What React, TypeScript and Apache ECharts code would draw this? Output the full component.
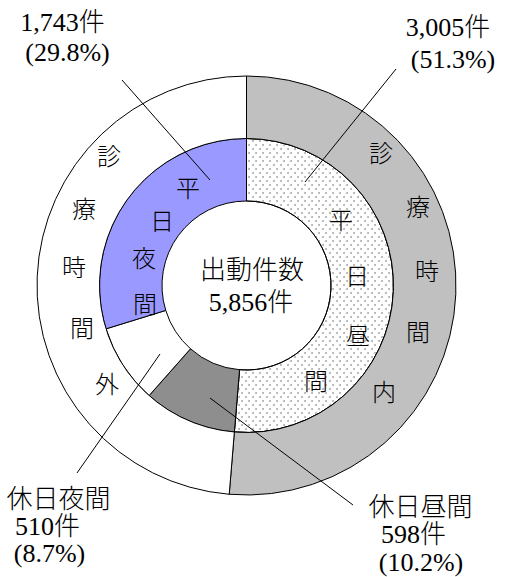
import React, { useEffect, useRef } from "react";
import * as echarts from "echarts";

// ---- data ----
const innerNames = ["平日昼間", "休日昼間", "休日夜間", "平日夜間"];
const innerValues = [3005, 598, 510, 1743];
const outerNames = ["診療時間内", "診療時間外"];
const outerValues = [3005, 2851];
const totalTitle = "出動件数";
const totalLabel = "5,856件";

// callout labels (text only)
const calloutTexts = [
  ["1,743件", "(29.8%)"],
  ["3,005件", "(51.3%)"],
  ["休日夜間", "510件", "(8.7%)"],
  ["休日昼間", "598件", "(10.2%)"],
];

// in-ring vertical labels
const ringLabels = ["平日夜間", "平日昼間", "診療時間内", "診療時間外"];

const FONT = "'Liberation Serif', 'Noto Sans CJK JP', serif";

export default function App() {
  const ref = useRef<HTMLDivElement>(null);

  useEffect(() => {
    if (!ref.current) return;
    const chart = echarts.init(ref.current, null, { renderer: "svg" });

    const cx = 246.5;
    const cy = 285.5;

    const innerStyles = [
      {
        color: "#ffffff",
        decal: {
          symbol: "circle",
          symbolSize: 1,
          dashArrayX: [
            [1.8, 4.2],
            [0, 3, 1.8, 1.2],
          ],
          dashArrayY: [1.8, 1.4],
          color: "#b0b0b0",
        },
      },
      { color: "#8e8e8e" },
      { color: "#ffffff" },
      { color: "#9999ff" },
    ];
    const outerColors = ["#c0c0c0", "#ffffff"];

    const text = (
      t: string,
      x: number,
      y: number,
      size = 25,
      lh?: number
    ): any => ({
      type: "text",
      z: 100,
      x,
      y,
      style: {
        text: t,
        fontSize: size,
        fontFamily: FONT,
        fontWeight: 300,
        lineHeight: lh ?? size,
        fill: "#000",
        align: "center",
        verticalAlign: "middle",
      },
    });
    const line = (x1: number, y1: number, x2: number, y2: number): any => ({
      type: "line",
      z: 100,
      shape: { x1, y1, x2, y2 },
      style: { stroke: "#000", lineWidth: 1 },
    });

    // per-character positions of in-ring labels
    const ringPos: number[][][] = [
      [
        [188, 189],
        [162, 222],
        [144, 259],
        [145, 305],
      ],
      [
        [341, 221],
        [357, 277],
        [358, 337],
        [316, 382],
      ],
      [
        [381, 154],
        [418, 208],
        [427, 272],
        [418, 333],
        [384, 393],
      ],
      [
        [109, 157],
        [84, 210],
        [74, 268],
        [82, 329],
        [107, 385],
      ],
    ];

    const graphics: any[] = [];
    ringLabels.forEach((lbl, i) => {
      lbl.split("").forEach((ch, j) => {
        const p = ringPos[i][j];
        graphics.push(text(ch, p[0], p[1], 24));
      });
    });

    graphics.push(text(totalTitle, 252, 270, 26, 24));
    graphics.push(text(totalLabel, 251, 302, 26, 24));

    const calloutPos: number[][][] = [
      [
        [62.5, 22],
        [67.5, 52],
      ],
      [
        [448, 27],
        [453, 59],
      ],
      [
        [58.5, 499],
        [47.5, 526],
        [49.5, 553],
      ],
      [
        [420.5, 507],
        [413.5, 534],
        [421, 562],
      ],
    ];
    calloutTexts.forEach((lines, i) => {
      lines.forEach((t, j) => {
        const p = calloutPos[i][j];
        graphics.push(text(t, p[0], p[1], 26, 20));
      });
    });

    graphics.push(line(122, 80, 210, 180));
    graphics.push(line(396, 69, 305, 182));
    graphics.push(line(77, 473, 160, 354));
    graphics.push(line(210, 398, 353, 505));

    chart.setOption({
      animation: false,
      backgroundColor: "#ffffff",
      series: [
        {
          type: "pie",
          center: [cx, cy],
          radius: [84.5, 147],
          startAngle: 90,
          clockwise: true,
          silent: true,
          label: { show: false },
          labelLine: { show: false },
          itemStyle: { borderColor: "#000", borderWidth: 1 },
          data: innerNames.map((n, i) => ({
            name: n,
            value: innerValues[i],
            itemStyle: innerStyles[i],
          })),
        },
        {
          type: "pie",
          center: [cx, cy],
          radius: [147, 209.5],
          startAngle: 90,
          clockwise: true,
          silent: true,
          label: { show: false },
          labelLine: { show: false },
          itemStyle: { borderColor: "#000", borderWidth: 1 },
          data: outerNames.map((n, i) => ({
            name: n,
            value: outerValues[i],
            itemStyle: { color: outerColors[i] },
          })),
        },
      ],
      graphic: graphics,
    });

    return () => chart.dispose();
  }, []);

  return (
    <div
      ref={ref}
      style={{ position: "fixed", left: 0, top: 0, width: 506, height: 577 }}
    />
  );
}
